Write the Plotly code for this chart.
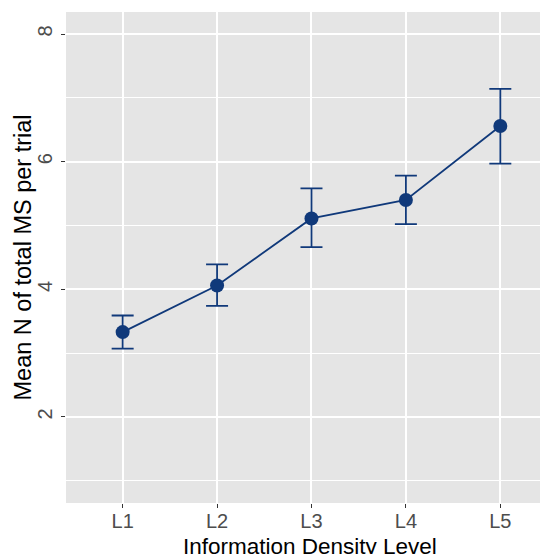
import plotly.graph_objects as go

levels = ["L1", "L2", "L3", "L4", "L5"]
means = [3.33, 4.06, 5.11, 5.40, 6.56]
upper = [3.59, 4.39, 5.58, 5.78, 7.14]
lower = [3.07, 3.74, 4.66, 5.02, 5.97]

xpos = list(range(1, len(levels) + 1))
err_plus = [u - m for u, m in zip(upper, means)]
err_minus = [m - l for m, l in zip(means, lower)]

color = "#10397A"
font = "Liberation Sans, Arial, sans-serif"

fig = go.Figure()
fig.add_trace(go.Scatter(
    x=xpos, y=means, mode="lines+markers",
    line=dict(color=color, width=1.8),
    marker=dict(color=color, size=14),
    error_y=dict(type="data", symmetric=False, array=err_plus, arrayminus=err_minus,
                 color=color, thickness=1.8, width=11),
    showlegend=False,
))

fig.update_layout(
    width=540, height=546,
    margin=dict(l=58, r=0, t=4, b=51, autoexpand=False),
    plot_bgcolor="#E5E5E5", paper_bgcolor="white",
    font=dict(family=font, color="#4D4D4D"),
)
fig.update_xaxes(
    range=[0.4, 5.505], tickvals=xpos, ticktext=levels,
    showgrid=True, gridcolor="white", gridwidth=1.8,
    ticks="outside", ticklen=4, tickcolor="#333333", tickwidth=1.4,
    tickfont=dict(size=20, color="#4D4D4D"), ticklabelstandoff=-4,
    zeroline=False, showline=False, automargin=False,
)
fig.update_yaxes(
    range=[0.652, 8.345], tickvals=[2, 4, 6, 8], tickangle=-90,
    showgrid=True, gridcolor="white", gridwidth=1.8,
    minor=dict(tickvals=[1, 3, 5, 7], showgrid=True, gridcolor="white", gridwidth=0.9, ticks=""),
    ticks="outside", ticklen=4, tickcolor="#333333", tickwidth=1.4,
    tickfont=dict(size=20, color="#4D4D4D"), ticklabelstandoff=1,
    zeroline=False, showline=False, automargin=False,
)
fig.add_annotation(
    text="Information Density Level", xref="paper", yref="paper",
    x=0.506, y=0, xanchor="center", yanchor="top", yshift=-29,
    showarrow=False, font=dict(size=22.5, color="black", family=font),
)
fig.add_annotation(
    text="Mean N of total MS per trial", xref="paper", yref="paper",
    x=0, y=0.5, xanchor="center", yanchor="middle", xshift=-44, textangle=-90,
    showarrow=False, font=dict(size=23.5, color="black", family=font),
)

fig.write_html("out.html")
